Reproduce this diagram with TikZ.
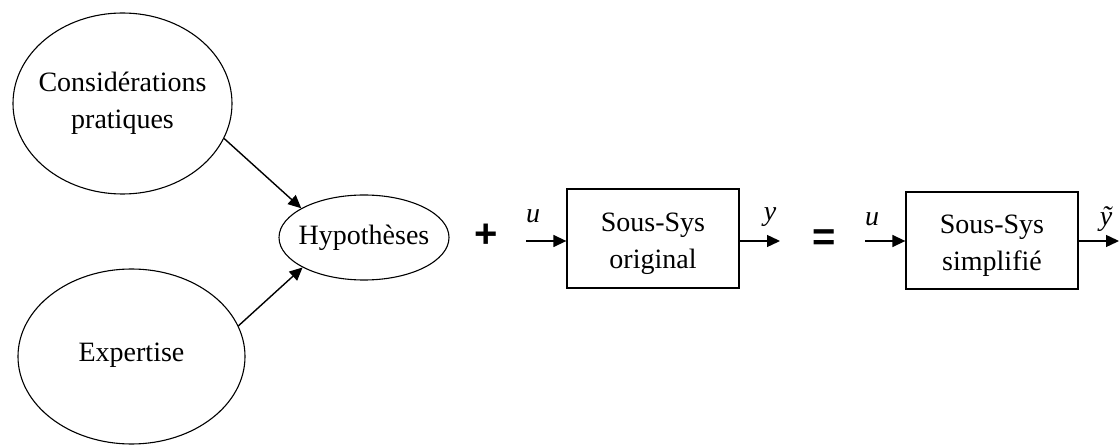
\documentclass[tikz,border=0pt]{standalone}
\usepackage{fontspec}
\setmainfont{Liberation Serif}
\newfontfamily\sansf{Liberation Sans}
\usetikzlibrary{arrows.meta,shapes.geometric}
\begin{document}
\begin{tikzpicture}[x=1pt,y=-1pt,
  txt/.style={font=\fontsize{28}{37}\selectfont, align=center, inner sep=0pt},
  ell/.style={draw, ellipse, line width=1.1pt, inner sep=0pt},
  blk/.style={draw, rectangle, line width=1.3pt, inner sep=0pt},
  arr/.style={line width=1.4pt, -{Triangle[length=13pt,width=12pt]}},
  lab/.style={font=\fontsize{28}{30}\selectfont\itshape, inner sep=0pt},
  op/.style={font=\sansf\bfseries\fontsize{40}{40}\selectfont, inner sep=0pt}]
\useasboundingbox (0,0) rectangle (1119,446);
% ellipses
\node[ell, minimum width=219pt, minimum height=181pt] (c1) at (122.5,103.5) {};
\node[txt] (c1t) at (122.5,103.5) {Considérations\\pratiques};
\node[ell, minimum width=227pt, minimum height=175pt] (c2) at (131.5,356.5) {};
\node[txt] (c2t) at (131.5,355) {Expertise};
\node[ell, minimum width=170pt, minimum height=85pt] (hyp) at (364,237.5) {};
\node[txt] (hypt) at (364,237.5) {Hypothèses};
\draw[arr] (c1.-19.8) -- (hyp.155);
\draw[arr] (c2.16.4) -- (hyp.206);
% plus
\node[op] (plus) at (486,236) {+};
% box 1
\node[blk, minimum width=172pt, minimum height=99pt] (b1) at (653,238.5) {};
\node[txt] (b1t) at (653,243.5) {Sous-Sys\\original};
\coordinate (u1s) at (526,241);
\draw[arr] (u1s) -- (u1s -| b1.west);
\coordinate (y1e) at (780,241);
\draw[arr] (y1e -| b1.east) -- (y1e);
\node[lab] (u1) at (533,216) {u};
\node[lab] (y1) at (770,217) {y};
% equal
\node[op] (eq) at (824,240) {=};
% box 2
\node[blk, minimum width=172pt, minimum height=97pt] (b2) at (992,240.5) {};
\node[txt] (b2t) at (992,246) {Sous-Sys\\simplifié};
\coordinate (u2s) at (865,241);
\draw[arr] (u2s) -- (u2s -| b2.west);
\coordinate (y2e) at (1119,241);
\draw[arr] (y2e -| b2.east) -- (y2e);
\node[lab] (u2) at (872,219) {u};
\node[lab] (y2) at (1106,219) {ỹ};
\end{tikzpicture}
\end{document}
